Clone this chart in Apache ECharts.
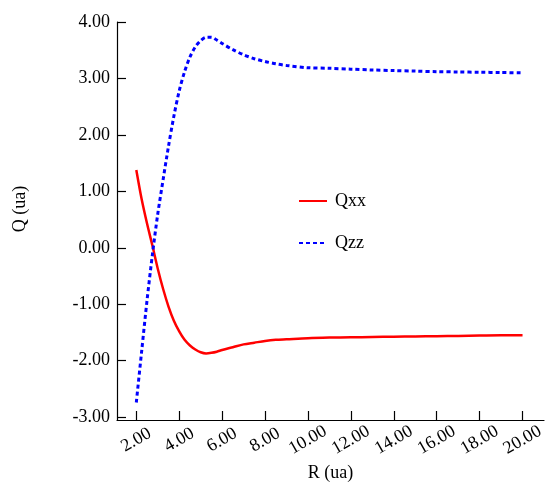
<!DOCTYPE html>
<html>
<head>
<meta charset="utf-8">
<script src="https://cdn.jsdelivr.net/npm/echarts@6/dist/echarts.min.js"></script>
<style>
  html, body { margin: 0; padding: 0; background: #fff; }
  #chart { width: 547px; height: 485px; }
</style>
</head>
<body>
<div id="chart"></div>
<script>
// R (ua) sample points
const rValues = [2.0, 2.25, 2.5, 2.75, 3.0, 3.25, 3.5, 3.75, 4.0, 4.25, 4.5, 4.75, 5.0, 5.25, 5.5, 5.75, 6.0, 6.5, 7.0, 7.5, 8.0, 8.5, 9, 10, 11, 12, 13, 14, 15, 16, 17, 18, 19, 20]
const qxx = [1.38, 0.86, 0.43, 0.04, -0.37, -0.73, -1.04, -1.29, -1.48, -1.63, -1.73, -1.80, -1.85, -1.87, -1.86, -1.84, -1.81, -1.76, -1.71, -1.68, -1.65, -1.63, -1.62, -1.60, -1.59, -1.585, -1.58, -1.575, -1.57, -1.565, -1.56, -1.555, -1.55, -1.55]
const qzz = [-2.74, -1.83, -0.93, -0.12, 0.60, 1.21, 1.80, 2.33, 2.78, 3.12, 3.38, 3.56, 3.67, 3.73, 3.73, 3.68, 3.62, 3.51, 3.42, 3.35, 3.30, 3.26, 3.23, 3.19, 3.18, 3.165, 3.15, 3.14, 3.13, 3.12, 3.115, 3.11, 3.105, 3.10]
const xTicks = [2, 4, 6, 8, 10, 12, 14, 16, 18, 20]
const yTicks = [-3, -2, -1, 0, 1, 2, 3, 4]

const font = '"Liberation Serif", "DejaVu Serif", serif'
const pairs = (ys) => rValues.map((r, i) => [r, ys[i]])

const chart = echarts.init(document.getElementById('chart'))
chart.setOption({
    animation: false,
    grid: { left: 117, top: 22, right: 3, bottom: 65, containLabel: false, outerBoundsMode: 'none' },
    legend: {
        orient: 'vertical',
        left: 298,
        top: 192,
        padding: 0,
        itemWidth: 28,
        itemHeight: 14,
        itemGap: 24,
        itemStyle: { opacity: 0 },
        textStyle: { fontFamily: font, fontSize: 18, color: '#000', padding: [0, 0, 0, 3] },
        data: ['Qxx', 'Qzz']
    },
    xAxis: {
        type: 'value',
        min: 1.1,
        max: 21,
        name: 'R (ua)',
        nameLocation: 'middle',
        nameGap: 43,
        nameTextStyle: { fontFamily: font, fontSize: 18, color: '#000' },
        splitLine: { show: false },
        axisLine: { onZero: false, lineStyle: { color: '#000', width: 1.2 } },
        axisTick: { inside: true, length: 9, customValues: xTicks, lineStyle: { color: '#000', width: 1.2 } },
        axisLabel: {
            customValues: xTicks,
            rotate: 30,
            align: 'center',
            verticalAlign: 'middle',
            margin: 20,
            fontFamily: font,
            fontSize: 18,
            color: '#000',
            formatter: (v) => v.toFixed(2)
        }
    },
    yAxis: {
        type: 'value',
        min: -3.05,
        max: 4,
        name: 'Q (ua)',
        nameLocation: 'middle',
        nameGap: 88,
        nameTextStyle: { fontFamily: font, fontSize: 18, color: '#000', padding: [0, 0, 0, 24] },
        splitLine: { show: false },
        axisLine: { onZero: false, lineStyle: { color: '#000', width: 1.2 } },
        axisTick: { inside: true, length: 9, customValues: yTicks, lineStyle: { color: '#000', width: 1.2 } },
        axisLabel: {
            customValues: yTicks,
            margin: 7,
            fontFamily: font,
            fontSize: 18,
            color: '#000',
            formatter: (v) => v.toFixed(2)
        }
    },
    series: [
        {
            name: 'Qxx',
            type: 'line',
            data: pairs(qxx),
            smooth: 0.3,
            symbol: 'none',
            color: '#ff0000',
            lineStyle: { color: '#ff0000', width: 2.5 }
        },
        {
            name: 'Qzz',
            type: 'line',
            data: pairs(qzz),
            smooth: 0.3,
            symbol: 'none',
            color: '#0000ff',
            lineStyle: { color: '#0000ff', width: 3, type: [4, 3] }
        }
    ]
})
</script>
</body>
</html>
